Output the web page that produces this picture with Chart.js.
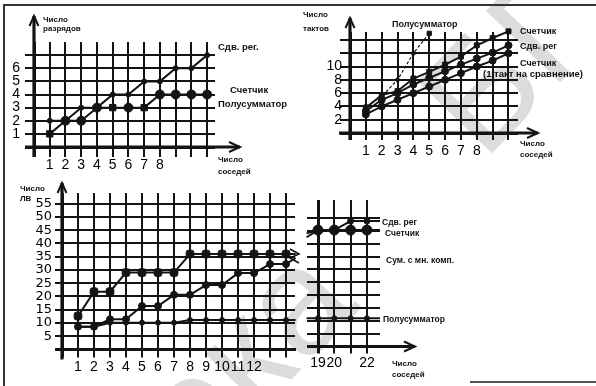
<!DOCTYPE html>
<html>
<head>
<meta charset="utf-8">
<script src="https://cdn.jsdelivr.net/npm/chart.js@4/dist/chart.umd.min.js"></script>
<style>
html,body{margin:0;padding:0;background:#fff;}
#wrap{position:relative;width:596px;height:386px;overflow:hidden;background:#fff;}
canvas.p{position:absolute;left:0;top:0;z-index:1;}
.lbl{position:absolute;z-index:2;font-family:"Liberation Sans",Arial,sans-serif;font-weight:bold;color:#111;white-space:nowrap;line-height:1;}
.wm{position:absolute;z-index:0;font-family:"Liberation Sans",Arial,sans-serif;font-size:150px;line-height:1;color:#dcdcdc;white-space:nowrap;}
.frame{position:absolute;z-index:2;background:#333;}
</style>
</head>
<body>
<div id="wrap">
  <div class="wm" id="wm1">Библиотека</div>
  <div class="wm" id="wm2">БГУИР</div>
  <div class="frame" style="left:3px;top:4px;width:593px;height:2px;"></div>
  <div class="frame" style="left:3px;top:4px;width:2px;height:382px;"></div>
  <div class="frame" style="left:470px;top:381px;width:126px;height:1.5px;background:#555;"></div>
  <canvas class="p" id="cA" width="596" height="386"></canvas>
  <canvas class="p" id="cB" width="596" height="386"></canvas>
  <canvas class="p" id="cC" width="596" height="386"></canvas>
  <canvas class="p" id="cD" width="596" height="386"></canvas>
</div>
<script>
const INK = '#141414';

// ---------- Panel A: Число разрядов / Число соседей ----------
const aNeighbors = [1, 2, 3, 4, 5, 6, 7, 8, 9, 10, 11];
const aShiftReg  = [2, 2, 3, 3, 4, 4, 5, 5, 6, 6, 7];
const aCounter   = [1, 2, 2, 3, 3, 3, 3, 4, 4, 4, 4];
const aXTicks  = [0, 1, 2, 3, 4, 5, 6, 7, 8, 9, 10, 11];
const aXLabels = ['', '1', '2', '3', '4', '5', '6', '7', '8', '', '', ''];
const aYTicks  = [0, 1, 2, 3, 4, 5, 6, 7];
const aYLabels = ['', '1', '2', '3', '4', '5', '6', ''];

// ---------- Panel B: Число тактов / Число соседей ----------
const bNeighbors     = [1, 2, 3, 4, 5, 6, 7, 8, 9, 10];
const bHalfNeighbors = [1, 2, 3, 4, 5];
const bHalfAdder = [4, 5.5, 8, 12, 15];
const bCounter   = [3.8, 5.7, 6.3, 8.2, 9.2, 10.3, 11.5, 13.2, 14.3, 15.3];
const bShiftReg  = [3.3, 5, 6, 7.3, 8.3, 9.3, 10.3, 11.2, 12.1, 13.2];
const bCounter1  = [2.8, 4, 5, 6, 7, 8, 9, 10, 10.9, 12];
const bXTicks  = [0, 1, 2, 3, 4, 5, 6, 7, 8, 9, 10];
const bXLabels = ['', '1', '2', '3', '4', '5', '6', '7', '8', '', ''];
const bYTicks  = [0, 2, 4, 6, 8, 10, 12, 14];
const bYLabels = ['', '2', '4', '6', '8', '10', '', ''];

// ---------- Panel C: Число ЛВ / Число соседей (1..14) ----------
const cNeighbors  = [1, 2, 3, 4, 5, 6, 7, 8, 9, 10, 11, 12, 13, 14, 14.6];
const cCounter    = [12.6, 21.8, 21.8, 29, 29, 29, 29, 36, 36, 36, 36, 36, 36, 36, 36];
const cMultiAdder = [8.6, 8.6, 11.4, 11.4, 16.4, 16.4, 20.6, 20.6, 24.3, 24.3, 28.8, 28.8, 32.2, 32.2, 34.5];
const cHalfAdder  = [8.6, 8.6, 10.1, 10.1, 10.1, 10.1, 10.1, 11.1, 11.1, 11.1, 11.1, 11.1, 11.1, 11.1, 11.1];
const cXTicks  = [0, 1, 2, 3, 4, 5, 6, 7, 8, 9, 10, 11, 12, 13, 14];
const cXLabels = ['', '1', '2', '3', '4', '5', '6', '7', '8', '9', '10', '11', '12', '', ''];
const cYTicks  = [0, 5, 10, 15, 20, 25, 30, 35, 40, 45, 50, 55];
const cYLabels = ['', '5', '10', '15', '20', '25', '30', '35', '40', '45', '50', '55'];

// ---------- Panel D: continuation 19..22 ----------
const dNeighbors = [18.3, 19, 20, 21, 22, 22.8];
const dShiftReg  = [42.5, 45.3, 45.3, 48.8, 48.8, 48.8];
const dCounter   = [44, 45.3, 45.3, 45.3, 45.3, 45.3];
const dHalfAdder = [11, 11, 11, 11, 11, 11];
const dXTicks  = [19, 20, 21, 22];
const dXLabels = ['19', '20', '', '22'];
const dYTicks  = [0, 5, 10, 15, 20, 25, 30, 35, 40, 45, 50];

// ---------- annotation texts ----------
const notes = [
  ['Число', 43, 23, 8], ['разрядов', 43, 32, 8],
  ['Сдв. рег.', 218, 50, 9.5], ['Счетчик', 230, 93, 9.5], ['Полусумматор', 218, 107, 9.5],
  ['Число', 218, 163, 8], ['соседей', 218, 175, 8],
  ['Число', 303, 18, 8], ['тактов', 303, 32, 8],
  ['Полусумматор', 392, 28, 9],
  ['Счетчик', 520, 35, 9], ['Сдв. рег', 520, 50, 9], ['Счетчик', 520, 67, 9],
  ['(1 такт на сравнение)', 483, 77, 9.5],
  ['Число', 520, 147, 8], ['соседей', 520, 158, 8],
  ['Число', 20, 192, 8], ['ЛВ', 20, 202, 8],
  ['Сдв. рег', 382, 225, 8.5], ['Счетчик', 385, 236, 8.5],
  ['Сум. с мн. комп.', 386, 263, 8.5], ['Полусумматор', 383, 322, 8.5],
  ['Число', 392, 367, 8], ['соседей', 392, 378, 8]
];
const wrap = document.getElementById('wrap');
notes.forEach(([t, x, base, s]) => {
  const d = document.createElement('div');
  d.className = 'lbl';
  d.textContent = t;
  d.style.fontSize = s + 'px';
  d.style.left = x + 'px';
  d.style.top = (base - 0.85 * s) + 'px';
  wrap.appendChild(d);
});

// watermark placement
(function () {
  const w1 = document.getElementById('wm1');
  w1.style.left = (378 - 900) + 'px'; w1.style.top = (323 - 150) + 'px';
  w1.style.width = '900px'; w1.style.textAlign = 'right';
  w1.style.transformOrigin = '100% 100%'; w1.style.transform = 'rotate(-46deg)';
  const w2 = document.getElementById('wm2');
  w2.style.left = '500px'; w2.style.top = (178 - 150) + 'px';
  w2.style.transformOrigin = '0% 100%'; w2.style.transform = 'rotate(-46deg)';
})();

const W = 596, H = 386;
const axesPlugin = {
  id: 'axes',
  beforeDatasetsDraw(chart, args, o) {
    const ctx = chart.ctx, xs = chart.scales.x, ys = chart.scales.y;
    const ax = xs.getPixelForValue(xs.min), ay = ys.getPixelForValue(0);
    ctx.save();
    ctx.strokeStyle = INK; ctx.lineCap = 'butt'; ctx.lineJoin = 'miter';
    ctx.lineWidth = 3.2;
    ctx.beginPath();
    if (o.yTip != null) { ctx.moveTo(ax, ay + o.yBelow); ctx.lineTo(ax, o.yTip); }
    if (o.xTip != null) { ctx.moveTo(o.xStart, ay); ctx.lineTo(o.xTip, ay); }
    ctx.stroke();
    ctx.lineWidth = 2;
    if (o.yArrow) {
      ctx.beginPath(); ctx.moveTo(ax - 4.5, o.yTip + 10); ctx.lineTo(ax, o.yTip); ctx.lineTo(ax + 4.5, o.yTip + 10); ctx.stroke();
    }
    if (o.xArrow) {
      ctx.beginPath(); ctx.moveTo(o.xTip - 11, ay - 5); ctx.lineTo(o.xTip, ay); ctx.lineTo(o.xTip - 11, ay + 5); ctx.stroke();
    }
    if (o.zig) {
      const [zx, zy] = o.zig;
      ctx.lineWidth = 1.6;
      ctx.beginPath(); ctx.moveTo(zx - 5, zy - 6); ctx.lineTo(zx + 4, zy - 1); ctx.lineTo(zx - 5, zy + 3); ctx.lineTo(zx + 4, zy + 8); ctx.stroke();
    }
    ctx.restore();
  }
};

function series(xs, ys, st) {
  return Object.assign({
    data: xs.map((x, i) => ({ x: x, y: ys[i] })),
    borderColor: INK, backgroundColor: INK,
    pointBackgroundColor: INK, pointBorderColor: INK, pointBorderWidth: 1,
    borderWidth: 2, tension: 0, clip: false
  }, st);
}

function panel(id, o) {
  return new Chart(document.getElementById(id), {
    type: 'line',
    data: { datasets: o.datasets },
    options: {
      responsive: false, animation: false, events: [],
      layout: { padding: { left: o.area.l - o.yW, top: o.area.t, right: W - o.area.r, bottom: H - o.area.b - o.xH } },
      plugins: { legend: { display: false }, tooltip: { enabled: false }, axes: o.axes },
      scales: {
        x: {
          type: 'linear', min: o.xMin, max: o.xMax, bounds: 'data',
          afterBuildTicks: s => { s.ticks = o.xTicks.map(v => ({ value: v })); },
          afterFit: s => { s.height = o.xH; },
          border: { display: false },
          grid: { color: INK, lineWidth: c => (c.tick && c.tick.value === o.xMin ? 3 : 2), tickLength: o.xTL, drawTicks: true },
          ticks: { autoSkip: false, maxRotation: 0, padding: o.xPad, color: '#000', font: o.xFont,
                   callback: (v, i) => o.xLabels[i] }
        },
        y: {
          type: 'linear', min: 0, max: o.yMax, bounds: 'data',
          afterBuildTicks: s => { s.ticks = o.yTicks.map(v => ({ value: v })); },
          afterFit: s => { s.width = o.yW; },
          border: { display: false },
          grid: { color: INK, lineWidth: c => (c.tick && c.tick.value === 0 ? 3 : 2), tickLength: o.yTL, drawTicks: true },
          ticks: { display: !!o.yLabels, autoSkip: false, padding: o.yPad, color: '#000', font: o.yFont,
                   callback: (v, i) => (o.yLabels ? o.yLabels[i] : '') }
        }
      }
    },
    plugins: [axesPlugin]
  });
}

const digitFont = { family: '"Liberation Sans", Arial, sans-serif', size: 14, weight: 'normal' };

// Panel A
panel('cA', {
  area: { l: 34, t: 42, r: 215, b: 147 }, yW: 22, xH: 24,
  xMin: 0, xMax: 11.5, yMax: 8,
  xTicks: aXTicks, xLabels: aXLabels, yTicks: aYTicks, yLabels: aYLabels,
  xTL: 10, yTL: 9, xPad: 0, yPad: 5,
  xFont: digitFont, yFont: { family: '"Liberation Sans", Arial, sans-serif', size: 14 },
  axes: { yTip: 16, yBelow: 10, xStart: 25, xTip: 240, yArrow: true, xArrow: true },
  datasets: [
    series(aNeighbors, aShiftReg, { pointRadius: 2.5, pointStyle: 'circle' }),
    series(aNeighbors, aCounter, { pointRadius: 4.5,
      pointStyle: ['rect', 'circle', 'circle', 'circle', 'rect', 'circle', 'rect', 'circle', 'circle', 'circle', 'circle'] })
  ]
});

// Panel B
panel('cB', {
  area: { l: 350, t: 32, r: 518, b: 133 }, yW: 24, xH: 24,
  xMin: 0, xMax: 10.6, yMax: 15.2,
  xTicks: bXTicks, xLabels: bXLabels, yTicks: bYTicks, yLabels: bYLabels,
  xTL: 7, yTL: 10, xPad: 3, yPad: -2,
  xFont: digitFont, yFont: { family: '"Liberation Sans", Arial, sans-serif', size: 14 },
  axes: { yTip: 18, yBelow: 7, xStart: 339, xTip: 538, yArrow: true, xArrow: true },
  datasets: [
    series(bHalfNeighbors, bHalfAdder, { borderWidth: 1.2, borderDash: [3, 2], pointRadius: [2, 2, 2, 2, 3], pointStyle: ['circle', 'circle', 'circle', 'circle', 'rect'] }),
    series(bNeighbors, bCounter, { pointRadius: 3.5, pointStyle: 'rect' }),
    series(bNeighbors, bShiftReg, { pointRadius: 3.5, pointStyle: 'circle' }),
    series(bNeighbors, bCounter1, { pointRadius: 3.5, pointStyle: 'circle' })
  ]
});

// Panel C
const cExt = x => (Number.isInteger(x) ? 1 : 0);
panel('cC', {
  area: { l: 62, t: 193, r: 295, b: 349.5 }, yW: 30, xH: 26,
  xMin: 0, xMax: 14.56, yMax: 59,
  xTicks: cXTicks, xLabels: cXLabels, yTicks: cYTicks, yLabels: cYLabels,
  xTL: 8, yTL: 7, xPad: 1, yPad: 3,
  xFont: digitFont, yFont: { family: '"DejaVu Sans", sans-serif', size: 13 },
  axes: { yTip: 183, yBelow: 10, xStart: 55, xTip: 296, yArrow: true, xArrow: false },
  datasets: [
    series(cNeighbors, cCounter, { pointRadius: cNeighbors.map(x => 4.5 * cExt(x)), pointStyle: 'rectRounded' }),
    series(cNeighbors, cMultiAdder, { pointRadius: cNeighbors.map(x => 3.5 * cExt(x)), pointStyle: 'circle' }),
    series(cNeighbors, cHalfAdder, { pointRadius: cNeighbors.map(x => 2.5 * cExt(x)), pointStyle: 'circle' })
  ]
});

// Panel D
const dExt = x => (Number.isInteger(x) ? 1 : 0);
panel('cD', {
  area: { l: 318, t: 200, r: 380, b: 346.5 }, yW: 11, xH: 26,
  xMin: 19, xMax: 22.8, yMax: 57,
  xTicks: dXTicks, xLabels: dXLabels, yTicks: dYTicks, yLabels: null,
  xTL: 7, yTL: 11, xPad: 1, yPad: 0,
  xFont: digitFont, yFont: digitFont,
  axes: { xStart: 307, xTip: 415, xArrow: true, zig: [295, 255] },
  datasets: [
    series(dNeighbors, dShiftReg, { pointRadius: dNeighbors.map(x => 3 * dExt(x)), pointStyle: 'circle' }),
    series(dNeighbors, dCounter, { pointRadius: dNeighbors.map(x => 5 * dExt(x)), pointStyle: 'circle' }),
    series(dNeighbors, dHalfAdder, { pointRadius: dNeighbors.map(x => 2.5 * dExt(x)), pointStyle: 'circle' })
  ]
});
</script>
</body>
</html>
